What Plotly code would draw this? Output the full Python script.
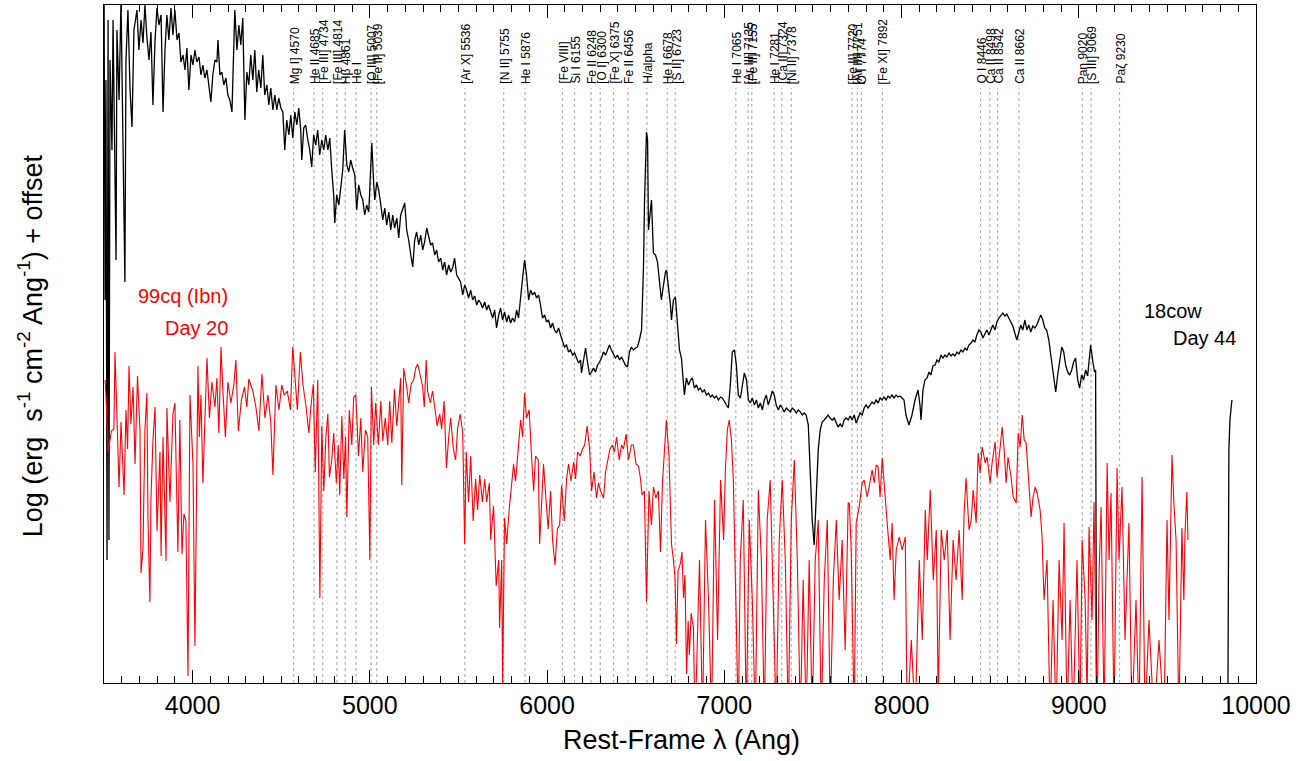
import plotly.graph_objects as go

# ---------------- data ----------------
# AT2018cow, day 44 (black) : rest wavelength (Ang), log flux + offset (arbitrary)
cow_wave = [3500,3506,3511,3517,3523,3528,3534,3545,3551,3568,3573,3585,3596,3607,3618,3624,3635,3647,3658,3669,
            3686,3697,3709,3720,3731,3742,3754,3765,3776,3788,3799,3810,3822,3833,3844,3855,3866,3878,3889,3900,
            3912,3923,3934,3946,3957,3968,3979,3991,4002,4013,4024,4036,4047,4058,4069,4081,4092,4103,4114,4126,
            4137,4143,4154,4165,4176,4188,4199,4210,4222,4233,4238,4250,4261,4272,4283,4295,4306,4317,4328,4340,
            4351,4362,4373,4385,4396,4407,4419,4430,4441,4453,4464,4475,4486,4498,4509,4520,4531,4543,4554,4565,
            4577,4588,4599,4610,4616,4627,4638,4650,4661,4672,4683,4695,4706,4717,4729,4740,4751,4763,4774,4785,
            4796,4802,4813,4825,4836,4847,4858,4870,4881,4892,4903,4915,4926,4937,4949,4960,4971,4982,4994,5005,
            5011,5022,5028,5039,5050,5062,5073,5084,5095,5107,5118,5129,5140,5152,5163,5174,5185,5197,5208,5219,
            5231,5242,5253,5264,5276,5287,5298,5309,5321,5332,5343,5354,5366,5377,5388,5400,5411,5422,5433,5445,
            5456,5467,5478,5490,5501,5512,5524,5535,5546,5557,5569,5580,5591,5603,5614,5625,5636,5648,5659,5670,
            5682,5693,5704,5715,5727,5738,5749,5760,5772,5783,5794,5805,5817,5828,5839,5851,5862,5873,5884,5896,
            5907,5918,5929,5941,5952,5963,5974,5986,5997,6008,6020,6031,6042,6053,6065,6076,6087,6098,6110,6121,
            6132,6144,6155,6166,6178,6189,6194,6206,6217,6228,6240,6251,6262,6273,6285,6296,6307,6318,6330,6341,
            6352,6363,6375,6386,6397,6409,6420,6431,6442,6454,6465,6476,6487,6499,6510,6521,6533,6544,6550,6561,
            6567,6572,6583,6589,6600,6612,6623,6634,6645,6657,6668,6674,6685,6696,6702,6713,6724,6736,6747,6758,
            6764,6775,6786,6798,6809,6820,6831,6843,6854,6865,6876,6888,6899,6910,6922,6933,6944,6955,6967,6978,
            6989,7000,7012,7023,7034,7045,7057,7068,7079,7091,7102,7113,7125,7136,7147,7158,7170,7181,7192,7203,
            7215,7226,7237,7248,7260,7271,7282,7293,7305,7316,7327,7338,7350,7361,7372,7383,7395,7406,7417,7429,
            7440,7451,7462,7474,7485,7496,7507,7519,7530,7541,7552,7564,7575,7586,7597,7609,7620,7631,7642,7654,
            7665,7676,7687,7699,7710,7721,7733,7744,7755,7766,7778,7789,7800,7811,7823,7834,7845,7856,7868,7879,
            7890,7901,7913,7924,7935,7946,7958,7969,7980,7991,8003,8014,8025,8042,8059,8076,8093,8104,8110,8121,
            8132,8144,8155,8166,8177,8189,8200,8211,8223,8234,8245,8256,8268,8279,8290,8301,8313,8324,8335,8346,
            8358,8369,8380,8392,8403,8414,8425,8437,8448,8459,8470,8482,8493,8504,8515,8527,8538,8549,8560,8572,
            8583,8594,8605,8617,8628,8639,8651,8662,8673,8684,8696,8707,8718,8729,8741,8752,8763,8774,8786,8797,
            8808,8819,8831,8842,8853,8864,8870,8881,8892,8904,8915,8926,8937,8949,8960,8971,8982,8994,9005,9016,
            9027,9039,9050,9061,9067,9078,9089,9095,9100,9836,9842,9847,9853,9864]
cow_flux = [7.13,3.83,6.03,1.23,6.63,1.43,6.23,5.33,6.63,4.23,6.53,5.83,6.83,5.63,4.01,6.23,6.73,5.93,5.56,6.53,
            6.73,6.33,6.63,6.40,6.78,6.46,6.23,6.51,5.78,6.43,6.75,6.58,6.68,5.71,6.33,6.68,6.43,6.75,6.48,6.73,
            6.43,6.50,6.21,6.28,6.13,6.35,5.93,6.28,6.18,6.33,6.21,6.26,6.08,6.18,6.05,6.13,5.98,5.81,6.08,6.23,
            6.21,6.43,6.08,6.11,5.98,6.05,5.88,5.83,5.71,6.43,6.73,6.33,6.58,6.38,6.65,5.63,6.11,5.98,6.28,6.03,
            6.33,5.91,6.13,5.95,6.28,5.88,5.98,5.78,5.95,5.73,5.88,5.73,5.85,5.75,5.71,5.33,5.63,5.48,5.68,5.45,
            5.71,5.58,5.75,5.53,5.23,5.55,5.58,5.43,5.33,5.16,5.48,5.38,5.53,5.28,5.43,5.33,5.48,5.33,5.45,5.13,
            4.88,4.60,4.88,4.78,4.98,5.13,5.53,5.18,5.11,5.23,5.15,5.08,4.73,4.98,4.88,4.83,4.68,4.78,4.71,5.13,
            5.40,4.98,4.83,5.01,4.93,4.78,4.63,4.75,4.58,4.71,4.53,4.68,4.55,4.65,4.45,4.68,4.73,4.80,4.53,4.43,
            4.28,4.16,4.43,4.51,4.38,4.48,4.33,4.41,4.55,4.45,4.38,4.40,4.28,4.33,4.21,4.25,4.13,4.21,4.08,4.18,
            4.11,4.15,4.25,4.08,4.05,4.01,3.88,3.98,3.93,3.85,3.93,3.83,3.87,3.78,3.83,3.80,3.75,3.81,3.73,3.78,
            3.71,3.65,3.73,3.55,3.68,3.75,3.63,3.71,3.61,3.68,3.60,3.65,3.61,3.73,3.65,3.83,4.05,4.23,4.08,3.83,
            3.93,3.88,3.91,3.85,3.88,3.78,3.65,3.68,3.61,3.63,3.55,3.60,3.53,3.50,3.55,3.48,3.43,3.36,3.38,3.31,
            3.33,3.28,3.30,3.25,3.20,3.23,3.10,3.23,3.35,3.21,3.08,3.11,3.15,3.11,3.18,3.21,3.25,3.31,3.28,3.33,
            3.38,3.33,3.28,3.25,3.28,3.23,3.26,3.21,3.18,3.16,3.31,3.36,3.33,3.35,3.36,3.43,3.53,4.16,4.83,5.51,
            5.43,4.53,4.78,4.83,4.30,4.28,4.21,3.98,3.83,3.98,4.11,4.13,3.98,3.78,3.63,3.83,3.86,3.53,3.33,3.25,
            3.08,2.88,3.05,2.98,3.03,3.05,2.95,2.98,2.93,2.95,2.91,2.93,2.88,2.90,2.86,2.88,2.85,2.87,2.83,2.86,
            2.85,2.81,2.78,2.75,2.98,3.31,3.33,3.18,2.88,2.85,2.98,3.10,3.03,2.83,2.80,2.85,2.78,2.83,2.75,2.80,
            2.73,2.83,2.88,2.78,2.85,2.92,2.88,2.78,2.73,2.78,2.75,2.71,2.75,2.73,2.71,2.75,2.73,2.70,2.73,2.71,
            2.68,2.70,2.68,2.58,2.13,1.63,1.38,1.83,2.33,2.53,2.61,2.63,2.65,2.68,2.65,2.63,2.65,2.61,2.56,2.59,
            2.56,2.63,2.65,2.63,2.67,2.63,2.68,2.60,2.65,2.70,2.68,2.75,2.78,2.75,2.78,2.81,2.79,2.83,2.80,2.85,
            2.83,2.86,2.83,2.87,2.85,2.88,2.85,2.88,2.86,2.87,2.85,2.83,2.68,2.58,2.68,2.83,2.93,2.78,2.63,2.93,
            3.03,3.05,3.11,3.08,3.17,3.18,3.23,3.21,3.28,3.25,3.28,3.26,3.30,3.27,3.29,3.27,3.31,3.29,3.33,3.31,
            3.35,3.33,3.38,3.40,3.43,3.41,3.48,3.53,3.51,3.45,3.49,3.53,3.48,3.53,3.58,3.53,3.61,3.65,3.67,3.70,
            3.67,3.69,3.65,3.61,3.57,3.50,3.43,3.51,3.58,3.53,3.63,3.53,3.58,3.51,3.57,3.55,3.58,3.63,3.68,3.63,
            3.55,3.53,3.43,3.28,3.13,2.98,2.91,3.08,3.23,3.36,3.31,3.18,3.11,3.08,3.13,3.21,3.25,3.03,2.95,3.08,
            3.03,3.13,3.07,3.33,3.38,3.23,3.11,3.13,-0.17,-0.37,0.00,2.33,2.63,2.83]

# SN 1999cq (Ibn), day 20 (red)
cq_wave = [3506,3511,3523,3542,3556,3562,3585,3596,3613,3624,3633,3641,3652,3664,3675,3689,3703,3709,3720,3731,
           3742,3748,3759,3765,3776,3788,3799,3816,3822,3833,3850,3855,3872,3889,3900,3917,3928,3940,3951,3962,
           3974,3985,4002,4013,4030,4038,4047,4058,4069,4081,4095,4109,4126,4137,4148,4160,4171,4185,4199,4216,
           4233,4244,4258,4276,4293,4306,4317,4340,4357,4374,4391,4408,4425,4441,4453,4470,4487,4503,4517,4534,
           4552,4565,4577,4591,4608,4622,4639,4656,4667,4681,4692,4706,4718,4729,4740,4752,4763,4772,4785,4796,
           4811,4822,4830,4842,4853,4863,4870,4884,4898,4909,4921,4936,4949,4960,4975,4988,5000,5009,5022,5033,
           5048,5062,5073,5087,5101,5112,5124,5139,5152,5163,5174,5180,5191,5208,5219,5233,5247,5259,5270,5285,
           5298,5307,5318,5326,5341,5354,5366,5380,5394,5405,5419,5432,5445,5456,5471,5484,5495,5510,5524,5535,
           5544,5557,5569,5583,5597,5608,5620,5635,5648,5659,5674,5682,5698,5713,5727,5732,5744,5749,5760,5772,
           5786,5800,5811,5822,5838,5851,5862,5873,5884,5899,5911,5924,5935,5950,5958,5971,5980,5992,6006,6020,
           6031,6045,6058,6071,6082,6097,6110,6121,6135,6150,6161,6172,6187,6200,6212,6226,6240,6251,6265,6279,
           6290,6302,6319,6330,6341,6355,6369,6380,6392,6407,6420,6431,6446,6459,6476,6487,6502,6516,6527,6536,
           6549,6561,6575,6589,6600,6614,6628,6640,6651,6666,6673,6688,6702,6713,6722,6730,6739,6753,6761,6770,
           6778,6787,6796,6803,6813,6826,6834,6843,
           6860,6877,6894,6911,6928,6945,6962,6979,6996,7006,7017,7028,7040,7051,7062,7079,7090,7107,7124,7141,
           7158,7175,7192,7209,7226,7242,7259,7276,7293,7310,7327,7344,7361,7378,7395,7412,7429,7445,7462,7479,
           7496,7513,7530,7547,7564,7581,7598,7615,7632,7648,7665,7682,7699,
           7705,7716,7733,7744,7761,7778,7789,7806,7817,7834,7846,7857,7868,7879,7891,7908,7919,7936,7947,7958,
           7970,7987,8004,8021,8032,8055,8077,8100,8117,8134,8145,8162,8179,8196,8207,8224,8241,8258,8274,8291,
           8308,8325,8342,8353,8364,8381,8393,8404,8421,8432,8443,8455,8472,8483,8500,8511,8528,8539,8556,8568,
           8579,8590,8601,8618,8630,8647,8658,8669,8681,8692,8703,8714,8731,8742,8754,8765,8782,8793,8804,8821,
           8838,8855,8872,8889,8906,8917,8934,8951,8968,8990,9007,9019,9036,9047,9058,9075,9086,9103,9115,9126,
           9143,9160,9171,9182,9199,9216,9227,9244,9261,9283,9300,9323,9340,9357,9374,9396,9424,9453,9481,9498,
           9509,9526,9537,9549,9565,9582,9593,9599,9610,9616]
cq_flux = [3.03,2.88,2.31,2.52,2.54,3.31,1.96,2.61,1.88,2.73,2.34,3.17,2.59,2.96,2.19,3.07,2.53,1.10,1.35,2.53,
           2.90,1.65,0.81,1.85,2.42,2.76,1.52,2.31,1.27,2.46,1.22,2.75,1.81,2.69,2.80,1.31,2.63,1.29,1.69,1.62,
           0.07,2.88,2.19,0.37,3.17,2.46,2.88,2.00,2.61,3.25,2.65,3.01,2.76,3.05,2.50,3.36,2.92,2.46,3.01,2.80,
           2.99,3.23,2.52,2.84,2.96,2.76,3.04,2.92,2.76,2.52,3.09,2.65,2.88,2.61,2.08,2.98,2.73,2.98,2.88,2.92,
           2.73,3.36,3.07,2.73,3.31,2.99,2.78,2.50,2.76,2.99,2.11,3.03,0.85,2.57,1.92,2.46,2.69,2.06,2.23,2.50,
           2.00,2.38,1.88,2.67,2.04,2.46,1.66,2.73,2.38,2.86,2.88,2.27,2.65,2.11,2.53,2.46,1.23,2.96,2.38,2.80,
           2.38,2.82,2.42,2.65,2.38,2.82,2.40,2.94,2.57,2.84,3.05,1.98,3.15,2.96,2.80,2.99,3.03,3.15,3.19,3.07,
           2.96,2.76,3.23,2.92,2.80,2.92,2.76,2.57,2.69,2.54,2.82,2.15,2.46,2.65,2.34,2.23,2.54,2.69,2.50,1.39,
           2.31,1.81,2.27,1.62,2.04,1.73,2.08,1.81,2.04,1.81,2.00,1.43,1.77,0.97,1.23,0.55,1.23,-0.03,1.65,1.39,
           1.73,1.96,2.19,2.02,2.34,2.63,2.46,2.90,2.65,2.73,2.31,1.92,2.27,2.23,1.39,1.96,2.19,1.88,1.54,1.92,
           1.43,1.18,1.54,1.58,1.98,1.62,2.04,2.19,2.02,2.21,2.04,2.31,2.27,2.34,2.38,2.57,2.34,1.92,2.11,1.85,
           2.00,1.92,1.85,2.11,2.23,2.34,2.38,2.31,2.46,2.23,2.38,2.34,2.49,2.23,2.38,2.38,2.19,2.17,2.04,1.88,
           1.92,0.81,1.92,1.58,1.96,1.85,1.92,1.31,2.00,2.38,2.63,2.27,1.39,1.23,1.04,0.39,1.12,1.20,1.31,0.85,
           1.08,0.09,0.62,0.28,0.70,0.55,-0.37,0.09,
           1.23,-0.37,1.63,0.83,-0.37,1.83,0.43,2.03,1.43,2.13,2.53,2.63,2.43,2.03,0.83,-0.37,1.23,1.83,-0.37,1.63,
           0.83,-0.37,1.93,1.23,-0.37,1.63,2.03,0.83,-0.37,1.43,2.03,1.23,-0.37,1.63,2.23,1.23,-0.37,1.03,-0.37,1.23,
           -0.37,1.23,1.63,-0.37,1.03,1.63,-0.37,1.03,1.63,0.83,1.43,0.33,1.80,
           1.80,1.33,-0.37,1.60,1.76,2.00,2.03,1.86,1.96,2.13,2.00,2.18,2.16,1.86,2.25,1.90,1.60,1.23,1.60,0.83,
           1.33,1.46,1.33,1.46,-0.37,0.43,-0.37,1.23,0.43,1.73,1.23,1.93,1.03,1.53,-0.17,1.53,1.23,1.53,0.43,1.43,
           1.03,1.53,0.83,1.70,2.05,1.53,1.63,1.93,1.60,2.30,2.10,2.36,2.20,2.26,2.00,2.20,2.41,2.06,2.40,2.56,
           2.33,2.00,2.26,2.06,1.86,1.80,2.50,2.36,2.68,2.43,2.40,2.10,1.66,1.86,1.96,1.90,1.73,1.46,0.83,1.23,
           -0.37,0.83,-0.37,1.23,0.43,1.60,-0.37,0.83,-0.37,1.23,-0.37,1.43,0.83,-0.17,1.56,0.63,1.81,-0.37,1.13,1.76,
           -0.37,2.20,1.23,1.90,-0.37,2.15,1.23,1.96,0.43,1.60,-0.37,0.83,-0.37,2.06,-0.37,0.63,-0.37,0.43,-0.37,1.63,
           0.63,2.28,1.78,1.43,-0.37,1.55,0.83,1.48,1.91,1.43]

# line identifications (rest wavelength, label)
line_wave = [4570,4685,4734,4814,4861,4922,5007,5039,5536,5755,5876,6087,6155,6248,6300,6375,6456,6563,6678,6723,
             7065,7135,7155,7281,7324,7378,7720,7751,7774,7892,8446,8498,8542,8662,9020,9069,9230]
line_label = ["Mg I] 4570","He II 4685","[Fe III] 4734","[Fe III] 4814","Hβ 4861","He I","[O III] 5007",
              "[Fe II] 5039","[Ar X] 5536","[N II] 5755","He I 5876","[Fe VIII]","Si I 6155","Fe II 6248",
              "[O I] 6300","[Fe X] 6375","Fe II 6456","H/alpha","He I 6678","[S II] 6723","He I 7065",
              "[Ar III] 7135","[Fe II] 7155","He I 7281","[Ca II] 7324","[Ni II] 7378","[Fe II] 7720",
              "[Ar III] 7751","O I 7774","[Fe XI] 7892","O I 8446","Ca II 8498","Ca II 8542","Ca II 8662",
              "Paη 9020","[S III] 9069","Paζ 9230"]

x_ticks = [4000, 5000, 6000, 7000, 8000, 9000, 10000]
x_ticktext = ["4000", "5000", "6000", "7000", "8000", "9000", "10000"]

FONT = "Liberation Sans, Arial, sans-serif"
Y_TOP = 6.78
LINE_TOP = 5.95

fig = go.Figure()

for w in line_wave:
    fig.add_shape(type="line", xref="x", yref="y", x0=w, x1=w, y0=0, y1=LINE_TOP,
                  line=dict(color="#b4b4b4", width=1.2, dash="3px,3px"), layer="below")

fig.add_trace(go.Scatter(x=cow_wave, y=cow_flux, mode="lines",
                         line=dict(color="black", width=1.3), showlegend=False))
fig.add_trace(go.Scatter(x=cq_wave, y=cq_flux, mode="lines",
                         line=dict(color="#ff0000", width=1.1), showlegend=False))

for w, lab in zip(line_wave, line_label):
    fig.add_annotation(x=w, y=LINE_TOP + 0.02, xref="x", yref="y", text=lab, textangle=-90,
                       showarrow=False, xanchor="center", yanchor="bottom", xshift=1,
                       font=dict(family=FONT, size=12, color="black"))

fig.add_annotation(x=0.109, y=0.571, xref="paper", yref="paper", text="99cq (Ibn)", showarrow=False,
                   xanchor="right", yanchor="middle", font=dict(family=FONT, size=20, color="#ff0000"))
fig.add_annotation(x=0.109, y=0.523, xref="paper", yref="paper", text="Day 20", showarrow=False,
                   xanchor="right", yanchor="middle", font=dict(family=FONT, size=20, color="#ff0000"))
fig.add_annotation(x=0.955, y=0.549, xref="paper", yref="paper", text="18cow", showarrow=False,
                   xanchor="right", yanchor="middle", font=dict(family=FONT, size=20, color="black"))
fig.add_annotation(x=0.984, y=0.509, xref="paper", yref="paper", text="Day 44", showarrow=False,
                   xanchor="right", yanchor="middle", font=dict(family=FONT, size=20, color="black"))

fig.add_annotation(x=0.5017, y=-0.084, xref="paper", yref="paper", text="Rest-Frame λ (Ang)",
                   showarrow=False, xanchor="center", yanchor="middle",
                   font=dict(family=FONT, size=27, color="black"))
fig.add_annotation(x=-0.064, y=0.497, xref="paper", yref="paper",
                   text="Log (erg  s<sup>-1</sup> cm<sup>-2</sup> Ang<sup>-1</sup>) + offset",
                   textangle=-90, showarrow=False, xanchor="center", yanchor="middle",
                   font=dict(family=FONT, size=27, color="black"))

fig.update_layout(
    width=1311, height=761,
    margin=dict(l=104, r=55, t=5, b=78),
    paper_bgcolor="white", plot_bgcolor="white",
    showlegend=False,
    xaxis=dict(range=[3500, 10000], tickvals=x_ticks, ticktext=x_ticktext, ticks="inside", ticklen=13,
               tickwidth=1.2, tickcolor="black", showline=True, linecolor="black", linewidth=1.3,
               mirror="ticks", showgrid=False, zeroline=False, automargin=False,
               minor=dict(dtick=100, ticks="inside", ticklen=7, tickwidth=1, tickcolor="black", showgrid=False),
               tickfont=dict(family=FONT, size=25, color="black")),
    yaxis=dict(range=[0, Y_TOP], showticklabels=False, ticks="", showline=True, linecolor="black",
               linewidth=1.3, mirror=True, showgrid=False, zeroline=False, automargin=False),
)

fig.write_html("out.html", config={"displayModeBar": False},
               post_script="document.body.style.margin='0px';document.body.style.overflow='hidden';")
